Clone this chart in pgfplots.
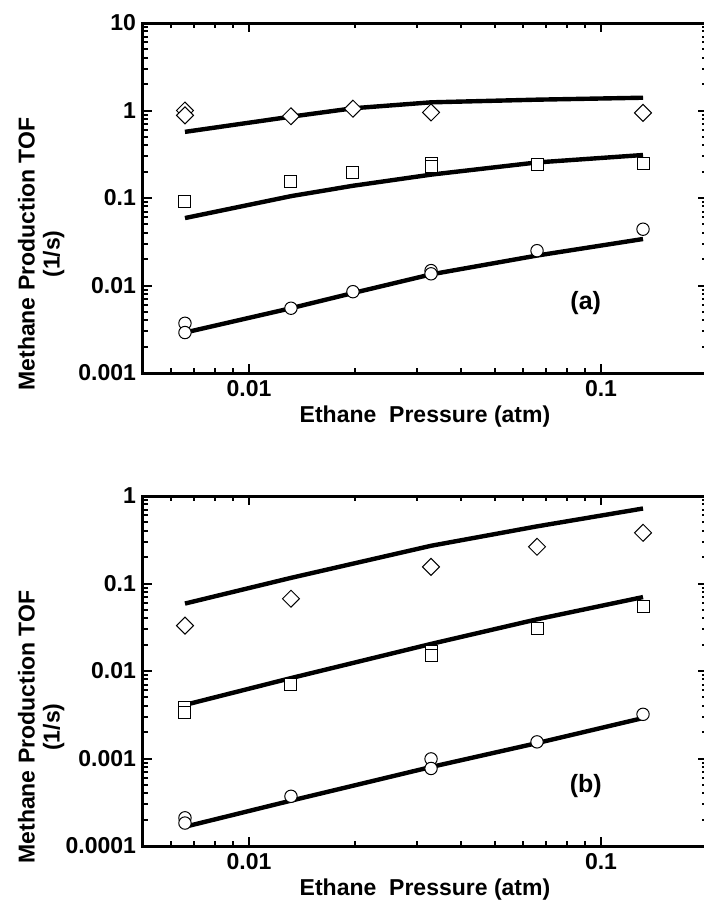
\documentclass[border=0pt]{standalone}
\usepackage{fontspec}
\setmainfont{Liberation Sans}
\usepackage{pgfplots}
\pgfplotsset{compat=1.18}

\begin{document}
\begin{tikzpicture}
\useasboundingbox (0,0) rectangle (351.5pt,-451.5pt);

% panel (a)
\begin{axis}[
  xmode=log, ymode=log,
  scale only axis, width=282pt, height=175pt,
  at={(71.5pt,-186.5pt)}, anchor=south west,
  xmin=0.005, xmax=0.2,
  ymin=0.001, ymax=10,
  xtick={0.01,0.1}, xticklabels={0.01,0.1},
  minor xtick={0.006,0.007,0.008,0.009,0.02,0.03,0.04,0.05,0.06,0.07,0.08,0.09},
  ytick={0.001,0.01,0.1,1,10}, yticklabels={0.001,0.01,0.1,1,10},
  minor ytick={0.002,0.003,0.004,0.005,0.006,0.007,0.008,0.009,
    0.02,0.03,0.04,0.05,0.06,0.07,0.08,0.09,
    0.2,0.3,0.4,0.5,0.6,0.7,0.8,0.9,2,3,4,5,6,7,8,9},
  axis line style={line width=1.5pt},
  major tick style={black, line width=1pt},
  minor tick style={black, line width=1pt},
  major tick length=4.5pt, minor tick length=2.5pt,
  /pgf/number format/assume math mode=true,
  tick label style={font=\bfseries\fontsize{11.5}{13}\selectfont},
  xlabel={Ethane\ \ Pressure (atm)},
  ylabel={Methane Production TOF\\(1/s)},
  label style={font=\bfseries\fontsize{11.5}{12.5}\selectfont},
  ylabel style={at={(axis description cs:-0.127,0.34)}, anchor=south, align=center},
  xlabel style={yshift=2pt},
  clip=false]
\addplot[black, line width=2.2pt, no marks] coordinates {(0.00658,0.57) (0.01316,0.85) (0.01974,1.06) (0.0329,1.24) (0.0658,1.33) (0.1316,1.40)};
\addplot[black, line width=2.2pt, no marks] coordinates {(0.00658,0.059) (0.01316,0.105) (0.01974,0.138) (0.0329,0.185) (0.0658,0.255) (0.1316,0.31)};
\addplot[black, line width=2.2pt, no marks] coordinates {(0.00658,0.0029) (0.01316,0.0055) (0.01974,0.0082) (0.0329,0.0134) (0.0658,0.022) (0.1316,0.034)};
\addplot[only marks, mark=square*, mark size=3pt, mark options={rotate=45, fill=white, draw=black, line width=0.5pt}]
  coordinates {(0.00658,1.0) (0.00658,0.88) (0.01316,0.86) (0.01974,1.05) (0.0329,0.95) (0.1316,0.94)};
\addplot[only marks, mark=square*, mark size=3pt, mark options={fill=white, draw=black, line width=0.5pt}]
  coordinates {(0.00658,0.092) (0.01316,0.156) (0.01974,0.197) (0.0329,0.25) (0.0329,0.232) (0.0658,0.24) (0.1316,0.25)};
\addplot[only marks, mark=*, mark size=3.1pt, mark options={fill=white, draw=black, line width=0.5pt}]
  coordinates {(0.00658,0.0037) (0.00658,0.0029) (0.01316,0.0055) (0.01974,0.0085) (0.0329,0.0148) (0.0329,0.0136) (0.0658,0.025) (0.1316,0.044)};
\node[font=\bfseries\fontsize{12.5}{14}\selectfont] at (axis description cs:0.785,0.2) {(a)};
\end{axis}

% panel (b)
\begin{axis}[
  xmode=log, ymode=log,
  scale only axis, width=282pt, height=175pt,
  at={(71.5pt,-423pt)}, anchor=south west,
  xmin=0.005, xmax=0.2,
  ymin=0.0001, ymax=1,
  xtick={0.01,0.1}, xticklabels={0.01,0.1},
  minor xtick={0.006,0.007,0.008,0.009,0.02,0.03,0.04,0.05,0.06,0.07,0.08,0.09},
  ytick={0.0001,0.001,0.01,0.1,1}, yticklabels={0.0001,0.001,0.01,0.1,1},
  minor ytick={0.0002,0.0003,0.0004,0.0005,0.0006,0.0007,0.0008,0.0009,
    0.002,0.003,0.004,0.005,0.006,0.007,0.008,0.009,
    0.02,0.03,0.04,0.05,0.06,0.07,0.08,0.09,0.2,0.3,0.4,0.5,0.6,0.7,0.8,0.9},
  axis line style={line width=1.5pt},
  major tick style={black, line width=1pt},
  minor tick style={black, line width=1pt},
  major tick length=4.5pt, minor tick length=2.5pt,
  /pgf/number format/assume math mode=true,
  tick label style={font=\bfseries\fontsize{11.5}{13}\selectfont},
  xlabel={Ethane\ \ Pressure (atm)},
  ylabel={Methane Production TOF\\(1/s)},
  label style={font=\bfseries\fontsize{11.5}{12.5}\selectfont},
  ylabel style={at={(axis description cs:-0.127,0.34)}, anchor=south, align=center},
  xlabel style={yshift=2pt},
  clip=false]
\addplot[black, line width=2.2pt, no marks] coordinates {(0.00658,0.059) (0.01316,0.116) (0.0329,0.27) (0.0658,0.45) (0.1316,0.72)};
\addplot[black, line width=2.2pt, no marks] coordinates {(0.00658,0.0041) (0.01316,0.0083) (0.0329,0.0204) (0.0658,0.039) (0.1316,0.07)};
\addplot[black, line width=2.2pt, no marks] coordinates {(0.00658,0.000166) (0.01316,0.00033) (0.0329,0.00080) (0.0658,0.0015) (0.1316,0.0029)};
\addplot[only marks, mark=square*, mark size=3pt, mark options={rotate=45, fill=white, draw=black, line width=0.5pt}]
  coordinates {(0.00658,0.033) (0.01316,0.067) (0.0329,0.155) (0.0658,0.263) (0.1316,0.38)};
\addplot[only marks, mark=square*, mark size=3pt, mark options={fill=white, draw=black, line width=0.5pt}]
  coordinates {(0.00658,0.0038) (0.00658,0.0034) (0.01316,0.0071) (0.0329,0.0167) (0.0329,0.0149) (0.0658,0.031) (0.1316,0.054)};
\addplot[only marks, mark=*, mark size=3.1pt, mark options={fill=white, draw=black, line width=0.5pt}]
  coordinates {(0.00658,0.00021) (0.00658,0.000183) (0.01316,0.00037) (0.0329,0.00099) (0.0329,0.00077) (0.0658,0.00155) (0.1316,0.0032)};
\node[font=\bfseries\fontsize{12.5}{14}\selectfont] at (axis description cs:0.785,0.17) {(b)};
\end{axis}
\end{tikzpicture}
\end{document}
